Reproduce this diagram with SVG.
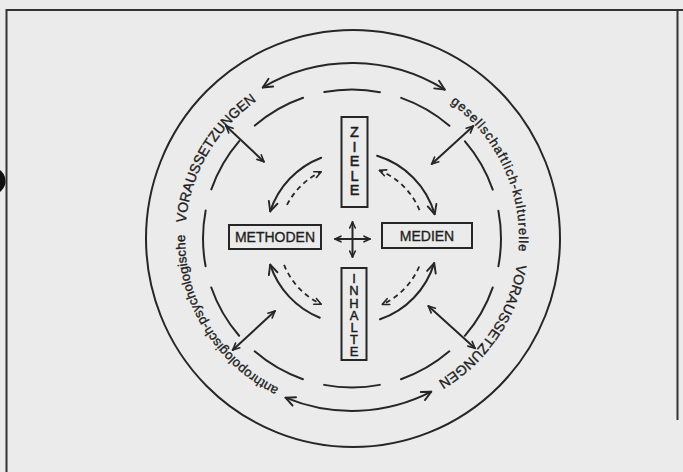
<svg xmlns="http://www.w3.org/2000/svg" width="683" height="472" viewBox="0 0 683 472">
<style>
.ln{fill:none;stroke:#262626;stroke-width:2;stroke-linecap:round}
.dsh{fill:none;stroke:#262626;stroke-width:1.8;stroke-dasharray:5 4}
.box{fill:none;stroke:#262626;stroke-width:2}
.t{font-family:"Liberation Sans",Arial,sans-serif;fill:#1e1e1e;stroke:#1e1e1e;stroke-width:0.35}
.lab{font-size:14px;text-anchor:middle}
.vz{font-size:14.5px;text-anchor:middle;stroke-width:0.5}
.vi{font-size:13px;text-anchor:middle;stroke-width:0.45}
.lc{font-size:13px}
.uc{font-size:14px}
</style>
<defs>
<marker id="a" viewBox="0 0 12 12" refX="11" refY="6" markerWidth="12" markerHeight="12" markerUnits="userSpaceOnUse" orient="auto-start-reverse"><path d="M1.5,1.5 L11,6 L1.5,10.5" fill="none" stroke="#262626" stroke-width="1.9" stroke-linecap="round" stroke-linejoin="round"/></marker>
<marker id="as" viewBox="0 0 10 10" refX="9" refY="5" markerWidth="9" markerHeight="9" markerUnits="userSpaceOnUse" orient="auto-start-reverse"><path d="M1.5,1.5 L9,5 L1.5,8.5" fill="none" stroke="#262626" stroke-width="1.8" stroke-linecap="round" stroke-linejoin="round"/></marker>
<marker id="ac" viewBox="0 0 10 10" refX="9" refY="5" markerWidth="8" markerHeight="8" markerUnits="userSpaceOnUse" orient="auto-start-reverse"><path d="M1.5,1.5 L9,5 L1.5,8.5" fill="none" stroke="#262626" stroke-width="2" stroke-linecap="round" stroke-linejoin="round"/></marker>
<path id="pl" d="M278.8,388.1 A167,167 0 0 1 294.9,81.1"/>
<path id="pr" d="M450.2,102.9 A167,167 0 0 1 425.2,388.1"/>
</defs>
<rect x="0" y="0" width="683" height="472" fill="#ebebeb"/>
<g id="frame">
<path d="M6.5,472 V10 H683" fill="none" stroke="#333" stroke-width="2"/>
<path d="M677.5,10 V420" fill="none" stroke="#333" stroke-width="2"/>
<circle cx="-8" cy="181" r="13.5" fill="#111"/>
</g>
<g id="rings">
<ellipse cx="353" cy="238.5" rx="207" ry="208.5" class="ln"/>
<circle cx="352" cy="238.5" r="149" class="ln" stroke-dasharray="56 22" stroke-dashoffset="28"/>
</g>
<g id="labels">
<text class="t lc" letter-spacing="0.15"><textPath href="#pl">anthropologisch-</textPath></text>
<text class="t lc" letter-spacing="0.15"><textPath href="#pl" startOffset="98.5">psychologische</textPath></text>
<text class="t uc"><textPath href="#pl" startOffset="201.5">VORAUSSETZUNGEN</textPath></text>
<text class="t lc" letter-spacing="1"><textPath href="#pr">gesellschaftlich-</textPath></text>
<text class="t lc" letter-spacing="1"><textPath href="#pr" startOffset="109.5">kulturelle</textPath></text>
<text class="t uc"><textPath href="#pr" startOffset="183.5">VORAUSSETZUNGEN</textPath></text>
</g>
<g id="ziele">
<rect x="341.5" y="117" width="26" height="90" class="box"/>
<text class="t vz"><tspan x="354.5" y="137">Z</tspan><tspan x="354.5" y="151.6">I</tspan><tspan x="354.5" y="166.2">E</tspan><tspan x="354.5" y="180.8">L</tspan><tspan x="354.5" y="195.4">E</tspan></text>
</g>
<g id="inhalte">
<rect x="341.5" y="268" width="25" height="92" class="box"/>
<text class="t vi"><tspan x="354" y="283">I</tspan><tspan x="354" y="295.2">N</tspan><tspan x="354" y="307.5">H</tspan><tspan x="354" y="319.7">A</tspan><tspan x="354" y="331.9">L</tspan><tspan x="354" y="344">T</tspan><tspan x="354" y="356">E</tspan></text>
</g>
<g id="methoden">
<rect x="229" y="225" width="92" height="24" class="box"/>
<text class="t lab" x="275" y="242">METHODEN</text>
</g>
<g id="medien">
<rect x="382" y="223" width="90" height="25" class="box"/>
<text class="t lab" x="427" y="240.5">MEDIEN</text>
</g>
<g id="connectors">
<path d="M262.7,87.5 A175,175 0 0 1 444.7,89.6" class="ln" marker-start="url(#a)" marker-end="url(#a)"/>
<path d="M431.3,391.7 A173,173 0 0 1 285.5,397.7" class="ln" marker-start="url(#a)" marker-end="url(#a)"/>
<line x1="226" y1="126" x2="264" y2="161.7" class="ln" marker-start="url(#as)" marker-end="url(#as)"/>
<line x1="473.3" y1="126" x2="431.7" y2="164" class="ln" marker-start="url(#as)" marker-end="url(#as)"/>
<line x1="275" y1="311" x2="232.7" y2="350" class="ln" marker-start="url(#as)" marker-end="url(#as)"/>
<line x1="428.3" y1="306" x2="475" y2="348.3" class="ln" marker-start="url(#as)" marker-end="url(#as)"/>
<path d="M321.2,157.7 A86,86 0 0 0 270.2,211.4" class="ln" marker-end="url(#a)"/>
<path d="M377.1,155.8 A86,86 0 0 1 434.7,214.3" class="ln" marker-end="url(#a)"/>
<path d="M319.8,317.7 A86,86 0 0 1 270.2,264.6" class="ln" marker-end="url(#a)"/>
<path d="M380,319.3 A86,86 0 0 0 434.2,263.1" class="ln" marker-end="url(#a)"/>
<path d="M287,204.9 A73,73 0 0 1 321.2,171.8" class="dsh" marker-end="url(#as)"/>
<path d="M419.5,210.2 A73,73 0 0 0 379.3,170.3" class="dsh" marker-end="url(#as)"/>
<path d="M284.1,264.8 A73,73 0 0 0 321.2,304.2" class="dsh" marker-end="url(#as)"/>
<path d="M419.2,266.5 A73,73 0 0 1 382.3,304.4" class="dsh" marker-end="url(#as)"/>
<line x1="335" y1="239" x2="370" y2="239" class="ln" marker-start="url(#ac)" marker-end="url(#ac)"/>
<line x1="352.5" y1="222" x2="352.5" y2="257" class="ln" marker-start="url(#ac)" marker-end="url(#ac)"/>
</g>
</svg>
